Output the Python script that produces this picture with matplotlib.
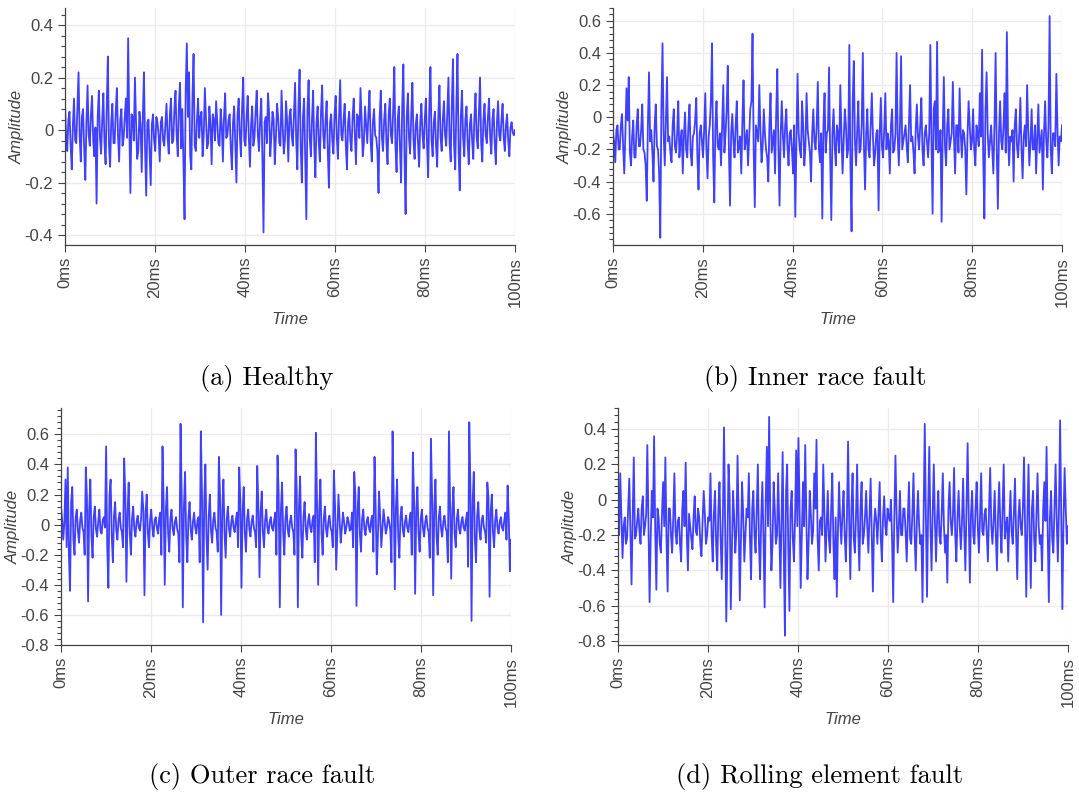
import numpy as np
import matplotlib
matplotlib.use('Agg')
import matplotlib.pyplot as plt
from matplotlib.ticker import AutoMinorLocator, FuncFormatter, MultipleLocator

plt.rcParams['font.family'] = ['Liberation Sans', 'DejaVu Sans']
plt.rcParams['axes.unicode_minus'] = False

# amplitude samples every 0.5 ms (peaks)
healthy = [
    0.10, -0.08, 0.07, -0.15, 0.12, -0.05, 0.22, -0.12, 0.08, -0.19, 0.17, -0.06, 0.13, -0.10, -0.28, 0.15, -0.09, 0.14, -0.13, 0.28,
    -0.14, 0.10, -0.05, 0.16, -0.12, 0.08, -0.03, 0.12, 0.35, -0.24, 0.05, 0.20, -0.11, 0.07, -0.16, 0.22, -0.25, 0.04, -0.21, 0.06,
    -0.08, 0.03, -0.12, 0.05, -0.06, 0.10, -0.09, 0.12, -0.04, 0.15, -0.10, 0.18, 0.08, -0.34, 0.33, 0.22, -0.15, 0.29, -0.08, 0.12,
    0.05, -0.10, 0.16, -0.07, 0.09, -0.13, 0.04, 0.11, -0.05, 0.08, -0.12, 0.14, -0.02, 0.06, -0.15, 0.09, -0.20, 0.12, -0.10, 0.20,
    -0.06, 0.13, -0.14, 0.09, -0.03, 0.15, -0.08, 0.12, -0.39, 0.05, 0.14, -0.10, 0.07, -0.13, 0.10, -0.05, 0.15, -0.09, 0.11, -0.12,
    0.08, -0.06, 0.18, -0.15, 0.23, -0.20, 0.12, -0.34, 0.19, -0.10, 0.15, -0.18, 0.09, -0.12, 0.17, -0.07, 0.11, -0.22, 0.06, -0.09,
    0.13, -0.11, 0.19, -0.04, 0.10, -0.15, 0.07, -0.08, 0.12, -0.13, 0.05, 0.16, -0.10, 0.09, -0.05, 0.15, -0.12, 0.08, -0.03, -0.24,
    0.15, -0.08, 0.10, -0.13, 0.12, -0.05, 0.24, -0.16, 0.09, -0.20, 0.25, -0.32, 0.14, -0.09, 0.18, -0.11, 0.06, -0.14, 0.10, -0.07,
    0.12, -0.18, 0.24, -0.10, 0.07, -0.14, 0.17, -0.08, 0.11, -0.06, 0.20, -0.12, 0.27, -0.15, 0.29, -0.23, 0.15, -0.10, 0.09, -0.13,
    0.06, -0.11, 0.14, -0.07, 0.20, -0.12, 0.10, -0.05, 0.12, -0.09, 0.08, -0.13, 0.11, -0.04, 0.10, -0.08, 0.06, -0.10, 0.03, -0.02,
]
# in-between samples (the dense core of the trace)
healthy_mid = [
    -0.03, 0.04, -0.06, 0.02, -0.04, 0.08, -0.02, 0.05, -0.07, 0.03, -0.02, 0.06, -0.04, 0.01, 0.05, -0.03, 0.04, -0.05, 0.09, -0.06,
    0.03, -0.05, 0.07, -0.02, 0.04, -0.06, 0.05, -0.03, 0.02, 0.06, -0.04, 0.03, -0.08, 0.02, 0.05, -0.07, 0.03, -0.09, 0.02, -0.04,
    0.05, -0.02, 0.03, -0.04, 0.02, -0.03, 0.06, -0.05, 0.08, -0.02, 0.10, -0.07, -0.12, 0.15, 0.05, -0.10, 0.12, -0.06, 0.04, -0.03,
    0.07, -0.02, 0.04, -0.05, 0.02, 0.06, -0.04, 0.03, -0.06, 0.02, 0.05, -0.03, 0.04, -0.07, 0.03, -0.05, 0.06, -0.02, 0.08, -0.04,
    0.05, -0.03, 0.02, -0.06, 0.07, -0.02, 0.04, -0.10, 0.03, -0.05, 0.06, -0.02, 0.04, -0.03, 0.05, -0.06, 0.02, -0.04, 0.03, 0.05,
    -0.02, 0.06, -0.04, 0.09, -0.07, 0.05, -0.11, 0.08, -0.03, 0.04, -0.06, 0.03, -0.05, 0.07, -0.02, 0.04, -0.08, 0.03, -0.04, 0.06,
    -0.03, 0.05, -0.02, 0.04, -0.06, 0.03, -0.04, 0.05, -0.02, 0.06, -0.03, 0.04, -0.05, 0.02, 0.06, -0.04, 0.03, -0.02, -0.08, 0.05,
    -0.03, 0.04, -0.05, 0.06, -0.02, 0.08, -0.06, 0.04, -0.07, 0.09, -0.10, 0.05, -0.03, 0.06, -0.04, 0.02, -0.05, 0.03, -0.02, 0.04,
    -0.05, 0.08, -0.04, 0.03, -0.06, 0.05, -0.03, 0.04, -0.02, 0.07, -0.05, 0.10, -0.06, 0.09, -0.08, 0.05, -0.03, 0.04, -0.05, 0.02,
    -0.04, 0.05, -0.03, 0.07, -0.05, 0.04, -0.02, 0.05, -0.03, 0.04, -0.05, 0.03, -0.02, 0.04, -0.03, 0.02, -0.04, 0.01, -0.01, 0.00,
]

inner_race = [
    -0.10, -0.28, -0.05, -0.20, 0.02, -0.35, 0.18, 0.25, -0.30, -0.02, -0.25, 0.05, -0.18, 0.08, -0.22, -0.52, 0.28, -0.08, -0.40, 0.08,
    -0.20, -0.75, 0.46, -0.30, 0.25, -0.12, -0.28, 0.05, -0.22, 0.10, -0.15, -0.35, 0.03, -0.25, 0.08, -0.30, -0.10, 0.12, -0.45, -0.05,
    -0.25, 0.15, -0.38, -0.05, 0.46, -0.53, 0.10, -0.20, -0.30, 0.20, -0.10, 0.32, -0.55, 0.02, -0.25, 0.10, -0.18, -0.35, 0.23, -0.15,
    -0.30, 0.05, 0.52, -0.56, -0.10, 0.20, -0.28, 0.05, -0.20, -0.40, 0.15, -0.15, -0.35, 0.30, -0.55, 0.10, -0.25, 0.05, -0.30, -0.08,
    -0.35, -0.62, 0.27, -0.20, 0.10, -0.30, 0.15, -0.15, -0.40, 0.05, -0.20, 0.22, -0.28, -0.63, 0.15, -0.10, 0.31, -0.64, 0.05, -0.30,
    -0.10, 0.20, -0.35, 0.05, -0.25, 0.45, -0.71, 0.35, -0.30, 0.10, -0.20, 0.40, -0.45, 0.05, -0.25, 0.15, -0.30, -0.10, -0.58, 0.12,
    -0.25, 0.15, -0.10, -0.35, 0.05, -0.20, 0.40, -0.30, 0.38, -0.15, -0.05, -0.28, 0.20, -0.12, -0.35, 0.08, -0.20, 0.12, -0.30, -0.05,
    -0.25, 0.45, -0.60, 0.10, 0.47, -0.20, -0.65, 0.25, -0.30, 0.05, -0.15, 0.22, -0.35, -0.05, 0.18, -0.25, -0.10, -0.48, 0.10, -0.20,
    0.05, -0.30, -0.10, 0.15, 0.42, -0.63, 0.28, -0.25, -0.05, -0.35, 0.40, -0.57, 0.10, -0.20, 0.15, 0.53, -0.30, -0.15, -0.40, 0.05,
    -0.25, 0.12, -0.38, -0.05, 0.20, -0.30, 0.05, -0.20, -0.35, 0.08, -0.15, -0.45, 0.10, -0.25, 0.63, -0.35, -0.10, 0.27, -0.30, -0.15,
]
inner_race_mid = [
    -0.15, -0.08, -0.20, -0.05, -0.18, -0.10, -0.02, -0.22, -0.12, -0.25, -0.05, -0.18, -0.08, -0.20, -0.30, -0.05, -0.15, -0.22, -0.05, -0.18,
    -0.35, 0.05, -0.10, -0.02, -0.15, -0.22, -0.05, -0.18, -0.10, -0.25, -0.08, -0.12, -0.20, -0.05, -0.22, -0.12, -0.02, -0.25, -0.10, -0.15,
    -0.08, -0.20, -0.12, 0.10, -0.25, -0.05, -0.18, -0.10, -0.05, -0.22, 0.05, -0.20, -0.10, -0.15, -0.05, -0.22, -0.12, -0.02, -0.20, -0.08,
    -0.12, 0.10, -0.20, -0.05, -0.15, -0.08, -0.18, -0.10, -0.25, -0.05, -0.22, -0.08, 0.02, -0.20, -0.10, -0.12, -0.05, -0.18, -0.10, -0.20,
    -0.05, -0.15, -0.10, -0.25, -0.05, -0.18, -0.08, -0.22, -0.10, -0.15, -0.05, -0.20, -0.10, -0.05, -0.22, -0.08, -0.25, -0.10, -0.18, -0.05,
    -0.22, -0.10, -0.15, -0.05, -0.20, -0.30, 0.10, -0.15, -0.08, -0.22, -0.05, -0.18, -0.10, -0.20, -0.05, -0.12, -0.22, -0.08, -0.10, -0.18,
    -0.08, -0.20, -0.15, -0.05, -0.22, -0.10, -0.12, -0.05, -0.20, -0.10, -0.18, -0.05, -0.15, -0.22, -0.08, -0.12, -0.05, -0.20, -0.10, -0.15,
    -0.10, -0.15, 0.05, -0.20, -0.22, -0.08, -0.10, -0.18, -0.05, -0.20, -0.10, -0.12, -0.05, -0.22, -0.10, -0.08, -0.20, -0.12, -0.05, -0.15,
    -0.20, -0.05, -0.18, -0.12, -0.25, 0.05, -0.10, -0.15, -0.20, -0.05, -0.20, -0.10, -0.15, -0.05, -0.22, -0.10, -0.12, -0.08, -0.05, -0.18,
    -0.10, -0.20, -0.12, -0.18, -0.08, -0.15, -0.20, -0.05, -0.12, -0.22, -0.08, -0.10, -0.15, -0.05, -0.20, -0.10, -0.18, -0.08, -0.12, -0.05,
]

outer_race = [
    0.12, -0.10, 0.30, 0.38, -0.44, 0.25, -0.20, 0.10, -0.12, 0.08, -0.05, 0.38, -0.51, 0.30, -0.22, 0.12, -0.08, 0.10, -0.06, 0.05,
    0.52, -0.42, 0.30, -0.25, 0.15, -0.10, 0.08, -0.05, 0.44, -0.38, 0.28, -0.20, 0.12, -0.08, 0.06, -0.04, 0.22, -0.47, 0.20, -0.15,
    0.10, -0.08, 0.05, -0.06, 0.08, 0.52, -0.40, 0.25, -0.18, 0.10, -0.07, 0.05, -0.06, 0.67, -0.55, 0.35, -0.25, 0.15, -0.10, 0.08,
    -0.06, 0.05, 0.62, -0.65, 0.40, -0.30, 0.20, -0.12, 0.08, -0.05, 0.45, -0.60, 0.30, -0.22, 0.12, -0.08, 0.06, -0.05, 0.08, 0.38,
    -0.42, 0.25, -0.18, 0.10, -0.08, 0.06, -0.05, 0.39, -0.35, 0.22, -0.15, 0.10, -0.06, 0.05, -0.04, 0.08, 0.46, -0.55, 0.28, -0.20,
    0.12, -0.08, 0.06, -0.05, 0.50, -0.55, 0.32, -0.22, 0.15, -0.10, 0.07, -0.05, 0.06, 0.61, -0.40, 0.30, -0.20, 0.12, -0.08, 0.06,
    -0.05, 0.36, -0.30, 0.20, -0.12, 0.08, -0.06, 0.05, -0.04, 0.08, 0.35, -0.54, 0.25, -0.18, 0.10, -0.07, 0.05, -0.05, 0.06, 0.45,
    -0.33, 0.22, -0.15, 0.10, -0.06, 0.05, -0.04, 0.62, -0.43, 0.30, -0.22, 0.12, -0.08, 0.06, -0.05, 0.08, 0.48, -0.46, 0.25, -0.18,
    0.10, -0.08, 0.06, -0.05, 0.57, -0.47, 0.30, -0.20, 0.12, -0.08, 0.06, -0.05, 0.62, -0.36, 0.25, -0.15, 0.10, -0.06, 0.05, -0.04,
    0.08, 0.68, -0.64, 0.35, -0.25, 0.15, -0.10, 0.06, -0.05, 0.28, -0.48, 0.20, -0.15, 0.10, -0.06, 0.05, -0.04, 0.08, 0.26, -0.31,
]
outer_race_mid = [
    0.03, 0.02, -0.15, -0.20, 0.15, -0.10, 0.05, -0.04, 0.03, -0.02, -0.20, 0.18, 0.10, -0.08, 0.05, -0.03, 0.02, -0.04, 0.03, -0.02,
    -0.15, 0.20, -0.08, 0.06, -0.04, 0.03, -0.02, -0.15, 0.20, 0.08, -0.06, 0.04, -0.03, 0.02, -0.02, 0.04, 0.10, 0.08, -0.05, 0.03,
    -0.02, 0.03, -0.02, 0.04, -0.20, 0.15, 0.10, -0.06, 0.04, -0.03, 0.02, -0.03, -0.25, 0.20, 0.12, -0.08, 0.05, -0.03, 0.02, -0.02,
    0.03, -0.25, 0.22, 0.15, -0.08, 0.06, -0.04, 0.03, -0.02, -0.18, 0.20, 0.10, -0.06, 0.04, -0.03, 0.02, -0.02, 0.03, -0.15, 0.15,
    0.08, -0.06, 0.04, -0.03, 0.02, -0.02, -0.15, 0.12, 0.08, -0.05, 0.03, -0.02, 0.02, -0.02, 0.03, -0.20, 0.20, 0.10, -0.06, 0.04,
    -0.03, 0.02, -0.02, -0.20, 0.22, 0.12, -0.08, 0.05, -0.03, 0.02, -0.02, 0.03, -0.25, 0.15, 0.10, -0.06, 0.04, -0.03, 0.02, -0.02,
    -0.15, 0.12, -0.06, 0.04, -0.03, 0.02, -0.02, 0.02, -0.03, -0.15, 0.20, 0.10, -0.06, 0.04, -0.03, 0.02, -0.02, 0.03, -0.18, 0.12,
    -0.08, 0.05, -0.03, 0.02, -0.02, 0.02, -0.25, 0.18, 0.12, -0.08, 0.05, -0.03, 0.02, -0.02, 0.03, -0.20, 0.18, 0.10, -0.06, 0.04,
    -0.03, 0.02, -0.02, -0.22, 0.20, 0.12, -0.08, 0.05, -0.03, 0.02, -0.02, -0.25, 0.15, 0.10, -0.06, 0.04, -0.03, 0.02, -0.02, 0.03,
    -0.28, 0.25, 0.15, -0.10, 0.06, -0.04, 0.03, -0.02, -0.12, 0.18, 0.08, -0.05, 0.03, -0.02, 0.02, -0.02, 0.03, -0.10, 0.05, -0.10,
]

rolling_element = [
    -0.05, 0.15, -0.33, -0.10, -0.22, 0.12, -0.48, 0.24, -0.20, -0.05, -0.25, 0.02, -0.15, 0.31, -0.58, 0.05, 0.36, -0.51, -0.10, -0.30,
    0.10, 0.24, -0.52, -0.05, -0.30, 0.15, -0.25, -0.10, -0.35, 0.05, 0.21, -0.40, -0.15, -0.28, 0.02, -0.20, -0.10, -0.32, 0.05, -0.25,
    -0.10, 0.15, -0.35, 0.05, -0.40, 0.10, -0.45, 0.41, -0.69, 0.20, -0.62, 0.05, -0.30, 0.25, -0.57, 0.10, -0.35, -0.05, 0.15, -0.45,
    0.05, -0.30, 0.20, -0.45, 0.10, -0.61, 0.30, 0.47, -0.40, 0.10, -0.25, 0.15, -0.50, 0.27, -0.77, 0.20, -0.63, 0.05, -0.35, 0.28,
    0.35, -0.50, 0.10, 0.31, -0.45, 0.05, -0.25, 0.15, 0.34, -0.40, -0.10, 0.20, -0.35, 0.05, -0.30, 0.15, -0.45, -0.55, 0.10, -0.25,
    0.05, -0.35, 0.33, -0.45, 0.15, -0.30, 0.20, -0.40, 0.10, -0.20, 0.05, -0.30, 0.12, -0.52, -0.05, -0.25, 0.10, -0.35, 0.02, -0.20,
    -0.10, 0.00, -0.58, 0.25, -0.30, 0.05, -0.20, -0.05, -0.35, 0.10, -0.25, 0.15, -0.40, 0.05, -0.25, -0.58, 0.43, -0.55, 0.30, -0.40,
    0.20, -0.35, 0.05, -0.25, 0.15, -0.30, -0.47, 0.10, -0.20, 0.18, -0.35, 0.05, -0.28, 0.12, -0.40, 0.32, -0.47, 0.05, -0.25, 0.10,
    -0.30, 0.15, -0.20, -0.05, -0.35, 0.18, -0.25, 0.05, -0.40, 0.10, -0.30, 0.20, -0.15, -0.35, 0.05, -0.25, 0.12, -0.45, 0.00, -0.20,
    0.24, -0.55, 0.20, -0.50, 0.05, -0.35, 0.15, -0.25, -0.40, 0.10, 0.30, -0.58, 0.05, -0.30, 0.20, -0.35, 0.45, -0.62, 0.18, -0.25,
]
rolling_element_mid = [
    -0.20, -0.08, -0.15, -0.25, -0.05, -0.18, -0.10, -0.22, -0.12, -0.18, -0.05, -0.20, -0.08, -0.15, -0.22, -0.10, -0.18, -0.05, -0.25, -0.08,
    -0.15, -0.22, -0.05, -0.20, -0.10, -0.18, -0.12, -0.25, -0.05, -0.15, -0.20, -0.08, -0.22, -0.10, -0.18, -0.05, -0.25, -0.12, -0.08, -0.20,
    -0.12, -0.20, -0.08, -0.25, -0.05, -0.22, -0.10, -0.15, -0.28, 0.02, -0.30, -0.10, -0.18, -0.12, -0.25, -0.08, -0.20, -0.10, -0.22, -0.05,
    -0.20, -0.05, -0.25, -0.10, -0.22, 0.00, -0.15, -0.08, -0.25, -0.05, -0.20, -0.15, -0.10, -0.30, 0.05, -0.28, -0.05, -0.22, -0.10, -0.15,
    -0.05, -0.20, -0.15, -0.10, -0.25, -0.08, -0.18, -0.05, -0.22, -0.12, -0.20, -0.08, -0.15, -0.22, -0.05, -0.25, -0.10, -0.18, -0.12, -0.08,
    -0.20, -0.10, -0.12, -0.05, -0.22, -0.10, -0.18, -0.05, -0.25, -0.10, -0.15, -0.08, -0.20, -0.15, -0.12, -0.08, -0.22, -0.10, -0.15, -0.05,
    -0.12, -0.22, -0.10, -0.08, -0.15, -0.20, -0.05, -0.18, -0.10, -0.22, -0.08, -0.20, -0.12, -0.15, -0.20, -0.05, -0.10, -0.05, -0.15, -0.08,
    -0.12, -0.10, -0.20, -0.08, -0.15, -0.20, -0.05, -0.12, -0.08, -0.20, -0.10, -0.15, -0.12, -0.18, -0.05, -0.10, -0.08, -0.20, -0.05, -0.15,
    -0.10, -0.18, -0.08, -0.20, -0.05, -0.15, -0.12, -0.20, -0.08, -0.15, -0.05, -0.22, -0.10, -0.12, -0.18, -0.08, -0.20, -0.10, -0.15, -0.05,
    -0.18, -0.10, -0.20, -0.05, -0.22, -0.08, -0.15, -0.20, -0.05, -0.12, -0.18, -0.10, -0.22, -0.05, -0.12, -0.05, -0.10, -0.12, -0.05, -0.15,
]

captions = ['(a) Healthy', '(b) Inner race fault', '(c) Outer race fault', '(d) Rolling element fault']
x_ticks = [0, 20, 40, 60, 80, 100]
x_tick_labels = ['0ms', '20ms', '40ms', '60ms', '80ms', '100ms']

W, H = 1079, 796
fig = plt.figure(figsize=(W / 100, H / 100), dpi=100)


def box(left, top, right, bottom):
    return [left / W, 1 - bottom / H, (right - left) / W, (bottom - top) / H]


def interleave(main, mid):
    out = np.empty(len(main) + len(mid))
    out[0::2] = main
    out[1::2] = mid
    return out


panels = [
    (interleave(healthy, healthy_mid), box(65, 8, 515, 245), (-0.438, 0.465), (267, 378)),
    (interleave(inner_race, inner_race_mid), box(613, 8, 1062, 245), (-0.795, 0.68), (815, 378)),
    (interleave(outer_race, outer_race_mid), box(61, 408, 511, 645), (-0.8, 0.775), (262, 777)),
    (interleave(rolling_element, rolling_element_mid), box(618, 408, 1068, 645), (-0.823, 0.52), (820, 777)),
]

grey = '#444444'
for (sig, rect, ylim, cap_xy), cap in zip(panels, captions):
    ax = fig.add_axes(rect)
    t = np.arange(len(sig)) * 100.0 / (len(sig) - 1)
    ax.plot(t, sig, color='#0000ff', lw=1.3, alpha=0.75)
    ax.set_xlim(0, 100)
    ax.set_ylim(*ylim)

    ax.set_xticks(x_ticks)
    ax.set_xticklabels(x_tick_labels, rotation=90)
    ax.yaxis.set_major_locator(MultipleLocator(0.2))
    ax.yaxis.set_minor_locator(AutoMinorLocator(5))
    ax.yaxis.set_major_formatter(FuncFormatter(lambda v, p: '0' if abs(v) < 1e-9 else '{:g}'.format(round(v, 2))))
    ax.tick_params(axis='both', labelsize=12, colors=grey, length=5, width=0.8)
    ax.tick_params(axis='y', which='minor', length=3, width=0.8, colors=grey)

    ax.grid(True, color='#ebebeb', lw=1)
    ax.set_axisbelow(True)
    for side in ['top', 'right']:
        ax.spines[side].set_visible(False)
    for side in ['left', 'bottom']:
        ax.spines[side].set_color(grey)
        ax.spines[side].set_linewidth(0.9)

    ax.set_xlabel('Time', fontsize=12, style='italic', color=grey)
    ax.set_ylabel('Amplitude', fontsize=12, style='italic', color=grey)
    ax.xaxis.set_label_coords(0.5, -75 / 237)
    ax.xaxis.label.set_va('center')
    ax.yaxis.set_label_coords(-48 / 450, 0.5)
    ax.yaxis.label.set_va('center')

    fig.text(cap_xy[0] / W, 1 - cap_xy[1] / H, cap, ha='center', va='center',
             fontsize=19, family='cmr10', color='black')

fig.savefig('out.png', dpi=100)
